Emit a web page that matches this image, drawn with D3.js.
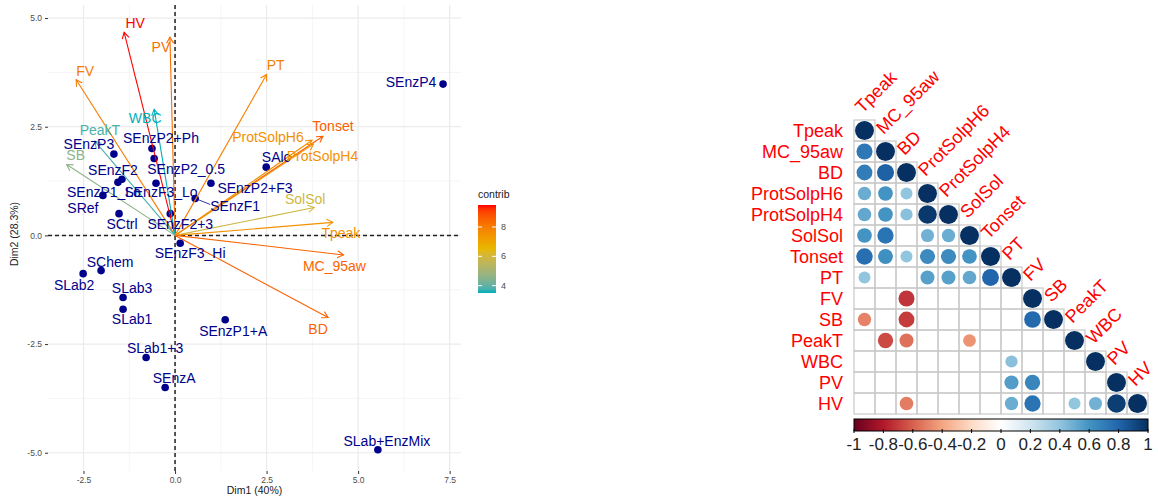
<!DOCTYPE html>
<html>
<head>
<meta charset="utf-8">
<script src="https://cdn.jsdelivr.net/npm/d3@7"></script>
<style>
  body { margin: 0; background: #ffffff; }
  svg { display: block; font-family: "Liberation Sans", Arial, Helvetica, sans-serif; }
</style>
</head>
<body>
<svg id="chart" width="1158" height="497"></svg>
<script>
// ---------- PCA biplot data ----------
const indNames = ["SEnzP4", "SAlc", "SEnzP2+F3", "SEnzF1", "SEnzP2+Ph", "SEnzP2_0.5", "SEnzF3_Lo",
  "SEnzF2+3", "SEnzF3_Hi", "SEnzP3", "SEnzF2", "SEnzP1_Lo", "SRef", "SCtrl", "SChem", "SLab2",
  "SLab3", "SLab1", "SEnzP1+A", "SLab1+3", "SEnzA", "SLab+EnzMix"];
const indDim1 = [7.32, 2.49, 0.98, 0.55, -0.63, -0.57, -0.52, -0.13, 0.14, -1.67, -1.45, -1.56,
  -1.97, -1.53, -2.02, -2.51, -1.42, -1.42, 1.37, -0.79, -0.27, 5.54];
const indDim2 = [3.48, 1.57, 1.20, 0.85, 2.00, 1.77, 1.20, 0.50, -0.18, 1.87, 1.29, 1.22,
  0.92, 0.50, -0.81, -0.88, -1.43, -1.70, -1.94, -2.81, -3.50, -4.93];

const varNames = ["HV", "PV", "PT", "FV", "WBC", "PeakT", "SB", "Tonset", "ProtSolpH6",
  "ProtSolpH4", "SolSol", "Tpeak", "MC_95aw", "BD"];
const varDim1 = [-1.39, -0.14, 2.50, -2.70, -0.57, -2.19, -2.96, 4.04, 3.74, 3.78, 3.80, 4.31, 4.60, 4.18];
const varDim2 = [4.67, 4.56, 3.70, 3.58, 2.90, 2.17, 1.63, 2.28, 2.19, 2.10, 0.64, 0.30, -0.45, -1.89];
const varContrib = [9.5, 8.3, 7.9, 8.0, 3.5, 3.8, 4.6, 8.6, 7.5, 7.5, 5.9, 7.5, 8.5, 8.5];

const xTicks = [-2.5, 0, 2.5, 5, 7.5];
const yTicks = [-5, -2.5, 0, 2.5, 5];
const contribTicks = [4, 6, 8];

// ---------- correlation matrix (lower triangle, blank = not significant) ----------
const corrVars = ["Tpeak", "MC_95aw", "BD", "ProtSolpH6", "ProtSolpH4", "SolSol", "Tonset",
  "PT", "FV", "SB", "PeakT", "WBC", "PV", "HV"];
const corrLower = [
  [1],
  [0.72, 1],
  [0.70, 0.82, 1],
  [0.50, 0.60, 0.40, 1],
  [0.52, 0.60, 0.42, 0.97, 1],
  [0.60, 0.74, null, 0.48, 0.50, 1],
  [0.76, 0.62, 0.40, 0.64, 0.64, 0.60, 1],
  [0.40, null, null, 0.55, 0.55, 0.52, 0.80, 1],
  [null, null, -0.72, null, null, null, null, null, 1],
  [-0.50, null, -0.70, null, null, null, null, null, 0.78, 1],
  [null, -0.66, -0.55, null, null, -0.45, null, null, null, null, 1],
  [null, null, null, null, null, null, null, 0.42, null, null, null, 1],
  [null, null, null, null, null, null, null, 0.56, 0.66, null, null, null, 1],
  [null, null, -0.52, null, null, null, null, 0.50, 0.74, null, 0.40, 0.48, 0.95, 1]
];
const corrTicks = [-1, -0.8, -0.6, -0.4, -0.2, 0, 0.2, 0.4, 0.6, 0.8, 1];

// ---------- label placement (pixel offsets from the mark) ----------
const indLabelOffset = {
  "SEnzP4": [-32, -2], "SAlc": [10, -10], "SEnzP2+F3": [44, 5], "SEnzF1": [40, 8],
  "SEnzP2+Ph": [9, -10], "SEnzP2_0.5": [32, 11], "SEnzF3_Lo": [5, 9], "SEnzF2+3": [10, 10],
  "SEnzF3_Hi": [10, 10], "SEnzP3": [-25, -10], "SEnzF2": [-9, -9], "SEnzP1_Lo": [-14, 10],
  "SRef": [-20, 13], "SCtrl": [3, 10], "SChem": [9, -9], "SLab2": [-9, 11], "SLab3": [9, -10],
  "SLab1": [9, 10], "SEnzP1+A": [8, 11], "SLab1+3": [9, -10], "SEnzA": [9, -10],
  "SLab+EnzMix": [9, -9]
};
const varLabelOffset = {
  "HV": [11, -9], "PV": [-9, 10], "PT": [9, -10], "FV": [9, -9], "WBC": [-9, 9],
  "PeakT": [5, -11], "SB": [9, -10], "Tonset": [10, -10], "ProtSolpH6": [-44, -3],
  "ProtSolpH4": [9, 12], "SolSol": [-9, -9], "Tpeak": [8, 11], "MC_95aw": [-9, 11], "BD": [-10, 11]
};

// numbers printed with an ASCII hyphen as the minus sign
const fmt1 = v => d3.format(".1f")(v).replace("\u2212", "-");
const fmtKey = v => String(v);

const svg = d3.select("#chart");

// ================= PCA biplot =================
const plot = { left: 48, right: 461, top: 5, bottom: 471 };
const x = d3.scaleLinear().domain([-3.47, 7.81]).range([plot.left, plot.right]);
const y = d3.scaleLinear().domain([5.3, -5.42]).range([plot.top, plot.bottom]);
const contribColor = d3.scaleLinear()
  .domain([3.5, 6.5, 9.5])
  .range(["#00AFBB", "#E7B800", "#FF0000"])
  .interpolate(d3.interpolateLab);
const indColor = "#00008B";

const gP = svg.append("g");

// minor grid
const xMinor = [-1.25, 1.25, 3.75, 6.25];
const yMinor = [-3.75, -1.25, 1.25, 3.75];
gP.append("g").selectAll("line").data(xMinor).join("line")
  .attr("x1", d => x(d)).attr("x2", d => x(d)).attr("y1", plot.top).attr("y2", plot.bottom)
  .attr("stroke", "#F2F2F2").attr("stroke-width", 0.8);
gP.append("g").selectAll("line").data(yMinor).join("line")
  .attr("y1", d => y(d)).attr("y2", d => y(d)).attr("x1", plot.left).attr("x2", plot.right)
  .attr("stroke", "#F2F2F2").attr("stroke-width", 0.8);
// major grid
gP.append("g").selectAll("line").data(xTicks).join("line")
  .attr("x1", d => x(d)).attr("x2", d => x(d)).attr("y1", plot.top).attr("y2", plot.bottom)
  .attr("stroke", "#EBEBEB").attr("stroke-width", 1.2);
gP.append("g").selectAll("line").data(yTicks).join("line")
  .attr("y1", d => y(d)).attr("y2", d => y(d)).attr("x1", plot.left).attr("x2", plot.right)
  .attr("stroke", "#EBEBEB").attr("stroke-width", 1.2);

// axes (ticks + labels, no domain line)
const xAxis = d3.axisBottom(x).tickValues(xTicks).tickFormat(fmt1).tickSize(3).tickPadding(3);
const yAxis = d3.axisLeft(y).tickValues(yTicks).tickFormat(fmt1).tickSize(3).tickPadding(3);
const gx = gP.append("g").attr("transform", `translate(0,${plot.bottom})`).call(xAxis);
const gy = gP.append("g").attr("transform", `translate(${plot.left},0)`).call(yAxis);
[gx, gy].forEach(g => {
  g.select(".domain").remove();
  g.selectAll(".tick line").attr("stroke", "#333333").attr("stroke-width", 1);
  g.selectAll(".tick text").attr("fill", "#4D4D4D").attr("font-size", "8.5px")
    .attr("font-family", "Liberation Sans, Arial, sans-serif");
});

// reference lines at zero
gP.append("line").attr("x1", plot.left).attr("x2", plot.right).attr("y1", y(0)).attr("y2", y(0))
  .attr("stroke", "#222").attr("stroke-width", 1.5).attr("stroke-dasharray", "4,3");
gP.append("line").attr("x1", x(0)).attr("x2", x(0)).attr("y1", plot.top).attr("y2", plot.bottom)
  .attr("stroke", "#222").attr("stroke-width", 1.5).attr("stroke-dasharray", "4,3");

// axis titles
gP.append("text").attr("x", (plot.left + plot.right) / 2).attr("y", 494)
  .attr("text-anchor", "middle").attr("font-size", "10.5px").attr("fill", "#1A1A1A").text("Dim1 (40%)");
gP.append("text").attr("transform", `translate(18,${(plot.top + plot.bottom) / 2 - 4}) rotate(-90)`)
  .attr("text-anchor", "middle").attr("font-size", "10.5px").attr("fill", "#1A1A1A").text("Dim2 (28.3%)");

const inds = indNames.map((n, i) => ({ name: n, d1: indDim1[i], d2: indDim2[i] }));
const vars = varNames.map((n, i) => ({ name: n, d1: varDim1[i], d2: varDim2[i], c: varContrib[i] }));

// leader segment for the SEnzF1 label
const f1 = inds.find(d => d.name === "SEnzF1");
gP.append("line")
  .attr("x1", x(f1.d1)).attr("y1", y(f1.d2))
  .attr("x2", x(f1.d1) + 15).attr("y2", y(f1.d2) + 6)
  .attr("stroke", indColor).attr("stroke-width", 0.8);

// individuals: points
gP.append("g").selectAll("circle").data(inds).join("circle")
  .attr("cx", d => x(d.d1)).attr("cy", d => y(d.d2)).attr("r", 3.8).attr("fill", indColor);

// variables: arrows with open heads
const gV = gP.append("g");
vars.forEach(v => {
  const x0 = x(0), y0 = y(0), x1 = x(v.d1), y1 = y(v.d2);
  const col = contribColor(v.c);
  gV.append("line").attr("x1", x0).attr("y1", y0).attr("x2", x1).attr("y2", y1)
    .attr("stroke", col).attr("stroke-width", 1.1);
  const ang = Math.atan2(y1 - y0, x1 - x0);
  const L = 7, a = Math.PI / 6;
  const p1 = [x1 - L * Math.cos(ang - a), y1 - L * Math.sin(ang - a)];
  const p2 = [x1 - L * Math.cos(ang + a), y1 - L * Math.sin(ang + a)];
  gV.append("path").attr("d", `M${p1[0]},${p1[1]}L${x1},${y1}L${p2[0]},${p2[1]}`)
    .attr("fill", "none").attr("stroke", col).attr("stroke-width", 1.1);
});

// individual labels
gP.append("g").selectAll("text").data(inds).join("text")
  .attr("x", d => x(d.d1) + indLabelOffset[d.name][0])
  .attr("y", d => y(d.d2) + indLabelOffset[d.name][1])
  .attr("text-anchor", "middle").attr("dominant-baseline", "central")
  .attr("font-size", "14px").attr("fill", indColor).text(d => d.name);

// variable labels
gP.append("g").selectAll("text").data(vars).join("text")
  .attr("x", d => x(d.d1) + varLabelOffset[d.name][0])
  .attr("y", d => y(d.d2) + varLabelOffset[d.name][1])
  .attr("text-anchor", "middle").attr("dominant-baseline", "central")
  .attr("font-size", "14px").attr("fill", d => contribColor(d.c)).text(d => d.name);

// contrib legend
const leg = { x: 478, w: 18, top: 205, bottom: 293 };
const cScale = d3.scaleLinear().domain([3.5, 9.5]).range([leg.bottom, leg.top]);
const defs = svg.append("defs");
const grad = defs.append("linearGradient").attr("id", "contribGrad")
  .attr("x1", 0).attr("y1", 1).attr("x2", 0).attr("y2", 0);
d3.range(0, 1.0001, 0.05).forEach(t => {
  grad.append("stop").attr("offset", t).attr("stop-color", contribColor(3.5 + 6 * t));
});
gP.append("text").attr("x", leg.x).attr("y", 198).attr("font-size", "10.5px").attr("fill", "#1A1A1A").text("contrib");
gP.append("rect").attr("x", leg.x).attr("y", leg.top).attr("width", leg.w).attr("height", leg.bottom - leg.top)
  .attr("fill", "url(#contribGrad)");
contribTicks.forEach(t => {
  gP.append("line").attr("x1", leg.x).attr("x2", leg.x + 4).attr("y1", cScale(t)).attr("y2", cScale(t))
    .attr("stroke", "#fff").attr("stroke-width", 1);
  gP.append("line").attr("x1", leg.x + leg.w - 4).attr("x2", leg.x + leg.w).attr("y1", cScale(t)).attr("y2", cScale(t))
    .attr("stroke", "#fff").attr("stroke-width", 1);
  gP.append("text").attr("x", leg.x + leg.w + 5).attr("y", cScale(t)).attr("dominant-baseline", "central")
    .attr("font-size", "9px").attr("fill", "#4D4D4D").text(t);
});

// ================= correlation plot =================
const cell = 21;
const cp = { left: 854, top: 120 };
const n = corrVars.length;
const band = d3.scaleBand().domain(corrVars).range([0, n * cell]);
const corrColor = d3.scaleLinear()
  .domain(d3.range(-1, 1.0001, 0.2))
  .range(["#67001F", "#B2182B", "#D6604D", "#F4A582", "#FDDBC7", "#FFFFFF",
          "#D1E5F0", "#92C5DE", "#4393C3", "#2166AC", "#053061"]);
const radius = d3.scaleSqrt().domain([0, 1]).range([0, 0.45 * cell]);

const gC = svg.append("g").attr("transform", `translate(${cp.left},${cp.top})`);
const cells = [];
corrLower.forEach((row, i) => row.forEach((v, j) => cells.push({ r: corrVars[i], c: corrVars[j], v })));

gC.append("g").selectAll("rect").data(cells).join("rect")
  .attr("x", d => band(d.c)).attr("y", d => band(d.r))
  .attr("width", cell).attr("height", cell)
  .attr("fill", "none").attr("stroke", "#C8C8C8").attr("stroke-width", 1.2);

gC.append("g").selectAll("circle").data(cells.filter(d => d.v !== null)).join("circle")
  .attr("cx", d => band(d.c) + cell / 2).attr("cy", d => band(d.r) + cell / 2)
  .attr("r", d => radius(Math.abs(d.v))).attr("fill", d => corrColor(d.v));

// row labels
gC.append("g").selectAll("text").data(corrVars).join("text")
  .attr("x", -11).attr("y", d => band(d) + cell / 2)
  .attr("text-anchor", "end").attr("dominant-baseline", "central")
  .attr("font-size", "18px").attr("fill", "#FF0000").text(d => d);

// column labels (diagonal)
gC.append("g").selectAll("text").data(corrVars).join("text")
  .attr("transform", d => `translate(${band(d) + cell / 2 - 2},${band(d) - 6}) rotate(-45)`)
  .attr("text-anchor", "start")
  .attr("font-size", "18px").attr("fill", "#FF0000").text(d => d);

// colour key
const keyTop = n * cell + 5, keyH = 12;
const keyX = d3.scaleLinear().domain([-1, 1]).range([0, n * cell]);
const kgrad = defs.append("linearGradient").attr("id", "corrGrad")
  .attr("x1", 0).attr("y1", 0).attr("x2", 1).attr("y2", 0);
d3.range(0, 1.0001, 0.02).forEach(t => {
  kgrad.append("stop").attr("offset", t).attr("stop-color", corrColor(-1 + 2 * t));
});
gC.append("rect").attr("x", 0).attr("y", keyTop).attr("width", n * cell).attr("height", keyH)
  .attr("fill", "url(#corrGrad)").attr("stroke", "#000").attr("stroke-width", 1);
gC.append("g").selectAll("line").data(corrTicks).join("line")
  .attr("x1", d => keyX(d)).attr("x2", d => keyX(d))
  .attr("y1", keyTop + keyH - 2).attr("y2", keyTop + keyH + 2)
  .attr("stroke", "#000").attr("stroke-width", 1);
gC.append("g").selectAll("text").data(corrTicks).join("text")
  .attr("x", d => keyX(d)).attr("y", keyTop + keyH + 19)
  .attr("text-anchor", "middle").attr("font-size", "17px").attr("fill", "#222")
  .text(fmtKey);
</script>
</body>
</html>
